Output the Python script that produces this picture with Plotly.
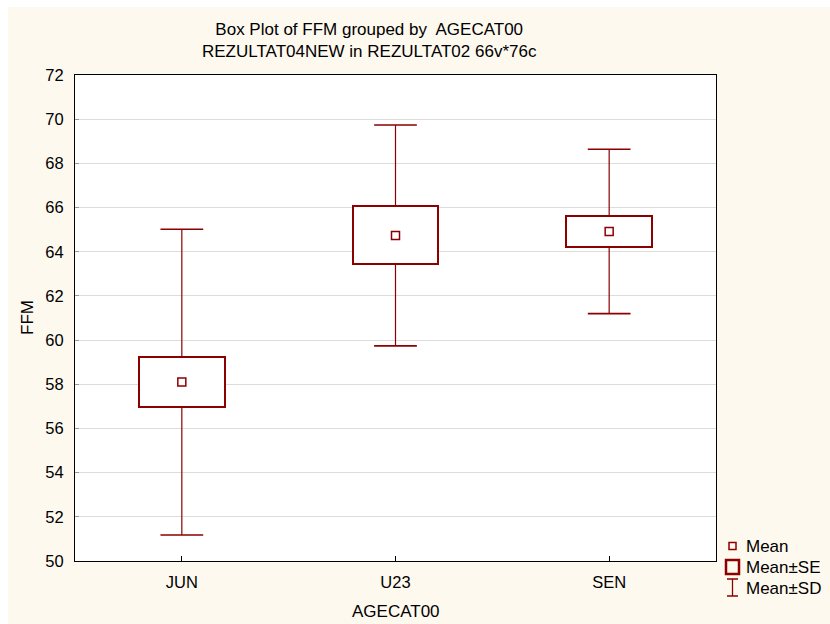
import plotly.graph_objects as go

# Group summary statistics for FFM by age category
categories = ["JUN", "U23", "SEN"]
mean_ffm = [58.10, 64.74, 64.92]
se_ffm = [1.15, 1.31, 0.71]
sd_ffm = [6.92, 5.00, 3.72]
y_ticks = list(range(50, 73, 2))

DARK_RED = "#8B0000"
CREAM = "#FEF9EE"
FONT = "Liberation Sans, Arial, sans-serif"

W, H = 830, 624
ML, MR, MT, MB = 75, 114, 75, 63
PW, PH = W - ML - MR, H - MT - MB


def px_x(px):
    return (px - ML) / PW


def px_y(py):
    return (H - MB - py) / PH


xs = list(range(len(categories)))
box_w = 0.4
cap_half = 0.1

fig = go.Figure()

# Mean ± SE boxes
fig.add_trace(go.Bar(
    x=xs,
    base=[m - s for m, s in zip(mean_ffm, se_ffm)],
    y=[2 * s for s in se_ffm],
    width=box_w,
    marker=dict(color="white", line=dict(color=DARK_RED, width=2)),
    showlegend=False,
    hoverinfo="skip",
))

# Mean ± SD whiskers (from box edge to SD limit) and caps
wx, wy, cx, cy = [], [], [], []
for i, m, s, d in zip(xs, mean_ffm, se_ffm, sd_ffm):
    wx += [i, i, None, i, i, None]
    wy += [m + s, m + d, None, m - s, m - d, None]
    cx += [i - cap_half, i + cap_half, None, i - cap_half, i + cap_half, None]
    cy += [m + d, m + d, None, m - d, m - d, None]

fig.add_trace(go.Scatter(x=wx, y=wy, mode="lines",
                         line=dict(color=DARK_RED, width=1.2),
                         showlegend=False, hoverinfo="skip"))
fig.add_trace(go.Scatter(x=cx, y=cy, mode="lines",
                         line=dict(color=DARK_RED, width=1.6),
                         showlegend=False, hoverinfo="skip"))

# Mean markers
fig.add_trace(go.Scatter(
    x=xs, y=mean_ffm, mode="markers",
    marker=dict(symbol="square-open", size=8, color=DARK_RED,
                line=dict(width=1.5, color=DARK_RED)),
    showlegend=False,
))

shapes = [
    # white strips along the top and left edges of the page
    dict(type="rect", xref="paper", yref="paper", layer="below",
         x0=px_x(0), x1=px_x(W), y0=px_y(7), y1=px_y(0),
         line=dict(width=0), fillcolor="white"),
    dict(type="rect", xref="paper", yref="paper", layer="below",
         x0=px_x(0), x1=px_x(8), y0=px_y(H), y1=px_y(0),
         line=dict(width=0), fillcolor="white"),
    # legend glyphs
    dict(type="rect", xref="paper", yref="paper",
         x0=px_x(729), x1=px_x(736), y0=px_y(549.5), y1=px_y(542.5),
         line=dict(color=DARK_RED, width=1.5)),
    dict(type="rect", xref="paper", yref="paper",
         x0=px_x(726), x1=px_x(739), y0=px_y(574), y1=px_y(560),
         line=dict(color=DARK_RED, width=2.5)),
    dict(type="line", xref="paper", yref="paper",
         x0=px_x(732.5), x1=px_x(732.5), y0=px_y(596), y1=px_y(579),
         line=dict(color=DARK_RED, width=1.3)),
    dict(type="line", xref="paper", yref="paper",
         x0=px_x(727), x1=px_x(738), y0=px_y(579), y1=px_y(579),
         line=dict(color=DARK_RED, width=1.5)),
    dict(type="line", xref="paper", yref="paper",
         x0=px_x(727), x1=px_x(738), y0=px_y(596), y1=px_y(596),
         line=dict(color=DARK_RED, width=1.5)),
]

annotations = [
    dict(text="Box Plot of FFM grouped by  AGECAT00<br>REZULTAT04NEW in REZULTAT02 66v*76c",
         xref="paper", yref="paper", x=px_x(369), y=px_y(41),
         xanchor="center", yanchor="middle", showarrow=False,
         font=dict(size=17, color="black")),
    dict(text="AGECAT00", xref="paper", yref="paper",
         x=px_x(396), y=px_y(611), xanchor="center", yanchor="middle",
         showarrow=False, font=dict(size=17, color="black")),
    dict(text="FFM", xref="paper", yref="paper", textangle=-90,
         x=px_x(27), y=0.5, xanchor="center", yanchor="middle",
         showarrow=False, font=dict(size=17, color="black")),
]
for label, py in [("Mean", 546), ("Mean±SE", 567), ("Mean±SD", 588)]:
    annotations.append(dict(text=label, xref="paper", yref="paper",
                            x=px_x(744), y=px_y(py), xanchor="left",
                            yanchor="middle", showarrow=False,
                            font=dict(size=17, color="black")))

fig.update_layout(
    width=W, height=H,
    margin=dict(l=ML, r=MR, t=MT, b=MB, pad=0),
    paper_bgcolor=CREAM,
    plot_bgcolor="white",
    font=dict(family=FONT, size=16.5, color="black"),
    shapes=shapes,
    annotations=annotations,
    bargap=0,
    xaxis=dict(
        range=[-0.5, 2.5], tickvals=xs, ticktext=categories,
        ticks="inside", ticklen=5, tickcolor="black",
        showgrid=False, zeroline=False,
        showline=True, mirror=True, linecolor="black", linewidth=1,
        ticklabelstandoff=6,
    ),
    yaxis=dict(
        range=[50, 72], tickvals=y_ticks,
        ticks="inside", ticklen=4, tickcolor="#999999",
        showgrid=True, gridcolor="#DCDCDC", gridwidth=1,
        zeroline=False,
        showline=True, mirror=True, linecolor="black", linewidth=1,
        ticklabelstandoff=7,
    ),
)

fig.write_html("out.html")
